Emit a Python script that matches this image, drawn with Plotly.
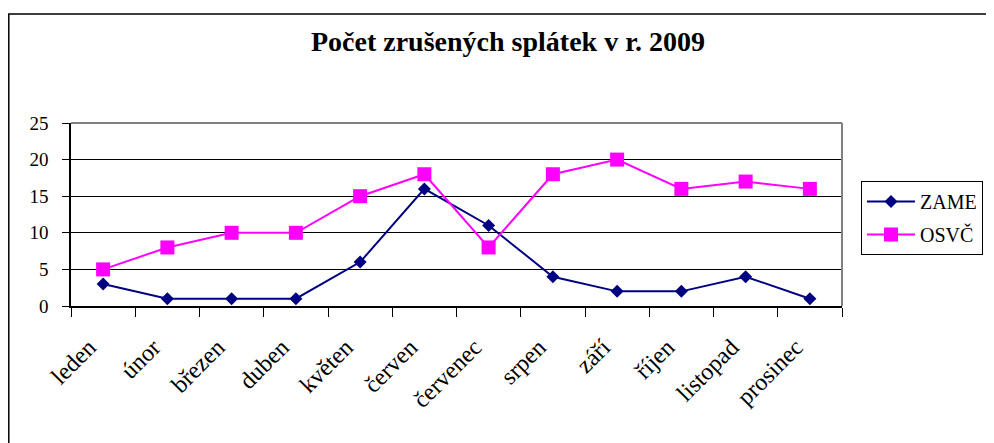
import plotly.graph_objects as go

months = ["leden", "únor", "březen", "duben", "květen", "červen",
          "červenec", "srpen", "září", "říjen", "listopad", "prosinec"]
zame = [3, 1, 1, 1, 6, 16, 11, 4, 2, 2, 4, 1]
osvc = [5, 8, 10, 10, 15, 18, 8, 18, 20, 16, 17, 16]
y_ticks = [0, 5, 10, 15, 20, 25]

# page has an 8px body margin; work in page pixels and subtract it
OFF = 8
W, H = 994 - OFF, 443 - OFF
L, R, T, B = 71 - OFF, 842 - OFF, 123 - OFF, 306 - OFF
pw, ph = R - L, B - T

def px_x(x):
    return (x - OFF - L) / pw

def px_y(y):
    return (B - (y - OFF)) / ph

serif = "Liberation Serif"

fig = go.Figure()
fig.add_trace(go.Scatter(
    x=months, y=zame, name="ZAME", mode="lines+markers",
    line=dict(color="#000080", width=2),
    marker=dict(symbol="diamond", size=10, color="#000080"),
    legendgroup="a",
))
fig.add_trace(go.Scatter(
    x=months, y=osvc, name="OSVČ", mode="lines+markers",
    line=dict(color="#FF00FF", width=2),
    marker=dict(symbol="square", size=14, color="#FF00FF"),
    legendgroup="b",
))

fig.update_layout(
    width=W, height=H,
    margin=dict(l=L, r=W - R, t=T, b=H - B, autoexpand=False),
    paper_bgcolor="white", plot_bgcolor="white",
    title=dict(text="<b>Počet zrušených splátek v r. 2009</b>",
               x=(508 - OFF) / W, xanchor="center", xref="container",
               y=1 - (41 - OFF) / H, yanchor="middle", yref="container",
               font=dict(family=serif, size=28, color="black")),
    showlegend=True,
    legend=dict(x=px_x(861), y=px_y(181), xanchor="left", yanchor="top",
                bordercolor="black", borderwidth=1, bgcolor="white",
                font=dict(family=serif, size=20, color="black"),
                traceorder="grouped", tracegroupgap=4,
                itemwidth=48),
    font=dict(family=serif, color="black"),
)

fig.update_xaxes(
    type="category", categoryorder="array", categoryarray=months,
    tickangle=-45, tickfont=dict(family=serif, size=24, color="black"),
    showline=True, linecolor="black", linewidth=1.5,
    ticks="outside", ticklen=9, tickcolor="black", tickson="boundaries",
    showgrid=False, ticklabelstandoff=16, ticklabelshift=-14,
    range=[-0.5, 11.5], fixedrange=True, automargin=False,
)
fig.update_yaxes(
    range=[0, 25], tickvals=y_ticks,
    tickfont=dict(family=serif, size=19, color="black"),
    showline=True, linecolor="black", linewidth=1.5,
    ticks="outside", ticklen=7, tickcolor="black",
    showgrid=True, gridcolor="black", gridwidth=1,
    zeroline=False, ticklabelstandoff=10, fixedrange=True, automargin=False,
)

# grey top and right edges of the plot area
fig.add_shape(type="line", xref="paper", yref="paper", x0=0, x1=1, y0=1, y1=1,
              line=dict(color="#808080", width=2), layer="above")
fig.add_shape(type="line", xref="paper", yref="paper", x0=1, x1=1, y0=0, y1=1,
              line=dict(color="#808080", width=2), layer="above")
# outer chart border
fig.add_shape(type="rect", xref="paper", yref="paper",
              x0=px_x(8.8), x1=px_x(1010), y0=px_y(470), y1=px_y(14),
              line=dict(color="black", width=1.5), layer="below")

fig.write_html("out.html")
